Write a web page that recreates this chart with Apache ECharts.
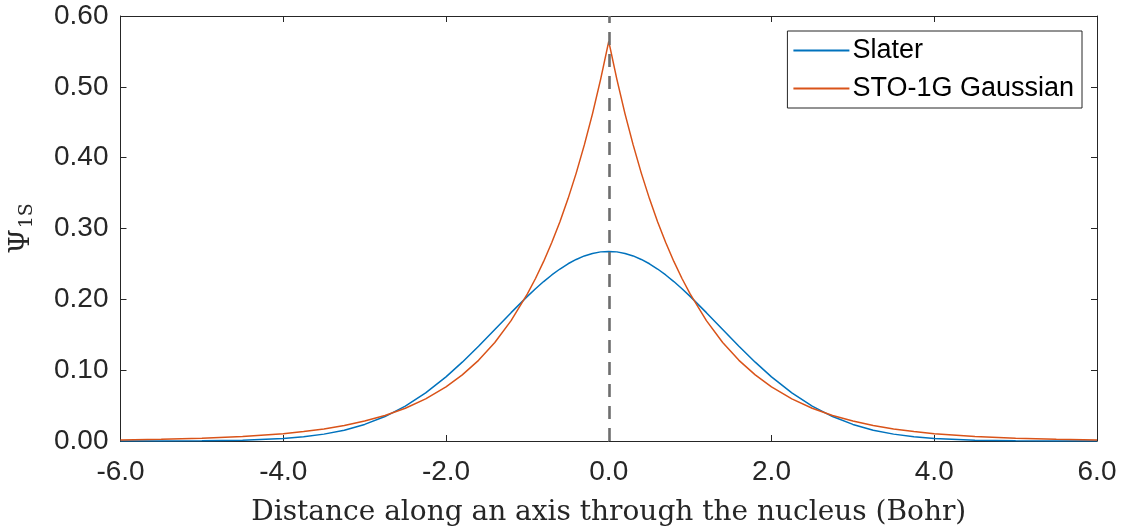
<!DOCTYPE html>
<html>
<head>
<meta charset="utf-8">
<title>Slater vs STO-1G</title>
<script src="https://cdn.jsdelivr.net/npm/echarts@6/dist/echarts.min.js"></script>
<style>
  html, body { margin: 0; padding: 0; background: #fff; }
  #chart { width: 1133px; height: 532px; }
</style>
</head>
<body>
<div id="chart"></div>
<script>
// distance along axis (Bohr)
const xs = [-6.0, -5.5, -5.0, -4.5, -4.0, -3.75, -3.5, -3.25, -3.0, -2.75, -2.5, -2.25, -2.0,
  -1.8, -1.6, -1.4, -1.2, -1.0, -0.9, -0.8, -0.7, -0.6, -0.5, -0.4, -0.3, -0.2, -0.1,
  0,
  0.1, 0.2, 0.3, 0.4, 0.5, 0.6, 0.7, 0.8, 0.9, 1.0, 1.2, 1.4, 1.6, 1.8,
  2.0, 2.25, 2.5, 2.75, 3.0, 3.25, 3.5, 3.75, 4.0, 4.5, 5.0, 5.5, 6.0]

// blue curve
const slater = [0.0000, 0.0001, 0.0003, 0.0011, 0.0035, 0.0059, 0.0097, 0.0153, 0.0234, 0.0345, 0.0492, 0.0679, 0.0906,
  0.1113, 0.1338, 0.1574, 0.1812, 0.2042, 0.2149, 0.2251, 0.2344, 0.2428, 0.2502, 0.2563, 0.2613, 0.2648, 0.2670,
  0.2677,
  0.2670, 0.2648, 0.2613, 0.2563, 0.2502, 0.2428, 0.2344, 0.2251, 0.2149, 0.2042, 0.1812, 0.1574, 0.1338, 0.1113,
  0.0906, 0.0679, 0.0492, 0.0345, 0.0234, 0.0153, 0.0097, 0.0059, 0.0035, 0.0011, 0.0003, 0.0001, 0.0000]

// orange curve
const sto1g = [0.0014, 0.0023, 0.0038, 0.0063, 0.0103, 0.0133, 0.0170, 0.0219, 0.0281, 0.0361, 0.0463, 0.0595, 0.0764,
  0.0933, 0.1139, 0.1391, 0.1699, 0.2076, 0.2294, 0.2535, 0.2802, 0.3096, 0.3422, 0.3782, 0.4180, 0.4619, 0.5105,
  0.5642,
  0.5105, 0.4619, 0.4180, 0.3782, 0.3422, 0.3096, 0.2802, 0.2535, 0.2294, 0.2076, 0.1699, 0.1391, 0.1139, 0.0933,
  0.0764, 0.0595, 0.0463, 0.0361, 0.0281, 0.0219, 0.0170, 0.0133, 0.0103, 0.0063, 0.0038, 0.0023, 0.0014]

const seriesNames = ['Slater', 'STO-1G Gaussian']
const xTicks = { min: -6, max: 6, interval: 2 }
const yTicks = { min: 0, max: 0.6, interval: 0.1 }

const axisColor = '#262626'
const sans = 'Liberation Sans'
const serif = 'DejaVu Serif'

const chart = echarts.init(document.getElementById('chart'))

function pairs (ys) {
  return xs.map((x, i) => [x, ys[i]])
}

const baseX = {
  type: 'value',
  min: xTicks.min,
  max: xTicks.max,
  interval: xTicks.interval,
  axisLine: { show: true, onZero: false, lineStyle: { color: axisColor, width: 1 } },
  axisTick: { show: true, inside: true, length: 6, lineStyle: { color: axisColor } },
  splitLine: { show: false }
}
const baseY = {
  type: 'value',
  min: yTicks.min,
  max: yTicks.max,
  interval: yTicks.interval,
  axisLine: { show: true, onZero: false, lineStyle: { color: axisColor, width: 1 } },
  axisTick: { show: true, inside: true, length: 6, lineStyle: { color: axisColor } },
  splitLine: { show: false }
}

chart.setOption({
  animation: false,
  backgroundColor: '#fff',
  grid: { left: 120, right: 36, top: 16, bottom: 87 },
  legend: {
    data: seriesNames,
    orient: 'vertical',
    right: 51,
    top: 31,
    padding: [6, 8, 6, 6],
    itemGap: 11,
    itemWidth: 56,
    itemHeight: 2,
    icon: 'rect',
    borderColor: axisColor,
    borderWidth: 1,
    backgroundColor: '#fff',
    textStyle: { fontFamily: sans, fontSize: 27, color: '#000', padding: [0, 0, 0, -2] }
  },
  xAxis: [
    Object.assign({}, baseX, {
      position: 'bottom',
      axisLabel: {
        show: true, margin: 17, fontFamily: sans, fontSize: 28, color: axisColor,
        formatter: v => v.toFixed(1)
      },
      name: 'Distance along an axis through the nucleus (Bohr)',
      nameLocation: 'middle',
      nameGap: 58,
      nameTextStyle: { fontFamily: serif, fontSize: 28, color: axisColor }
    }),
    Object.assign({}, baseX, { position: 'top', axisLabel: { show: false } })
  ],
  yAxis: [
    Object.assign({}, baseY, {
      position: 'left',
      axisLabel: {
        show: true, margin: 12, fontFamily: sans, fontSize: 28, color: axisColor,
        formatter: v => v.toFixed(2)
      },
      name: '{a|Ψ}{b|1S}',
      nameLocation: 'middle',
      nameGap: 84,
      nameTextStyle: {
        color: axisColor,
        rich: {
          a: { fontFamily: serif, fontSize: 28, color: axisColor },
          b: { fontFamily: serif, fontSize: 19, color: axisColor, padding: [10, 0, 0, 1] }
        }
      }
    }),
    Object.assign({}, baseY, { position: 'right', axisLabel: { show: false } })
  ],
  series: [
    {
      name: seriesNames[0],
      type: 'line',
      data: pairs(slater),
      showSymbol: false,
      symbol: 'none',
      lineStyle: { color: '#0072BD', width: 1.5 },
      itemStyle: { color: '#0072BD' },
      z: 3,
      markLine: {
        silent: true,
        symbol: 'none',
        label: { show: false },
        lineStyle: { color: '#6e6e6e', type: [13, 9], width: 2.6 },
        data: [{ xAxis: 0 }]
      }
    },
    {
      name: seriesNames[1],
      type: 'line',
      data: pairs(sto1g),
      showSymbol: false,
      symbol: 'none',
      lineStyle: { color: '#D95319', width: 1.5 },
      itemStyle: { color: '#D95319' },
      z: 4
    }
  ]
})
</script>
</body>
</html>
